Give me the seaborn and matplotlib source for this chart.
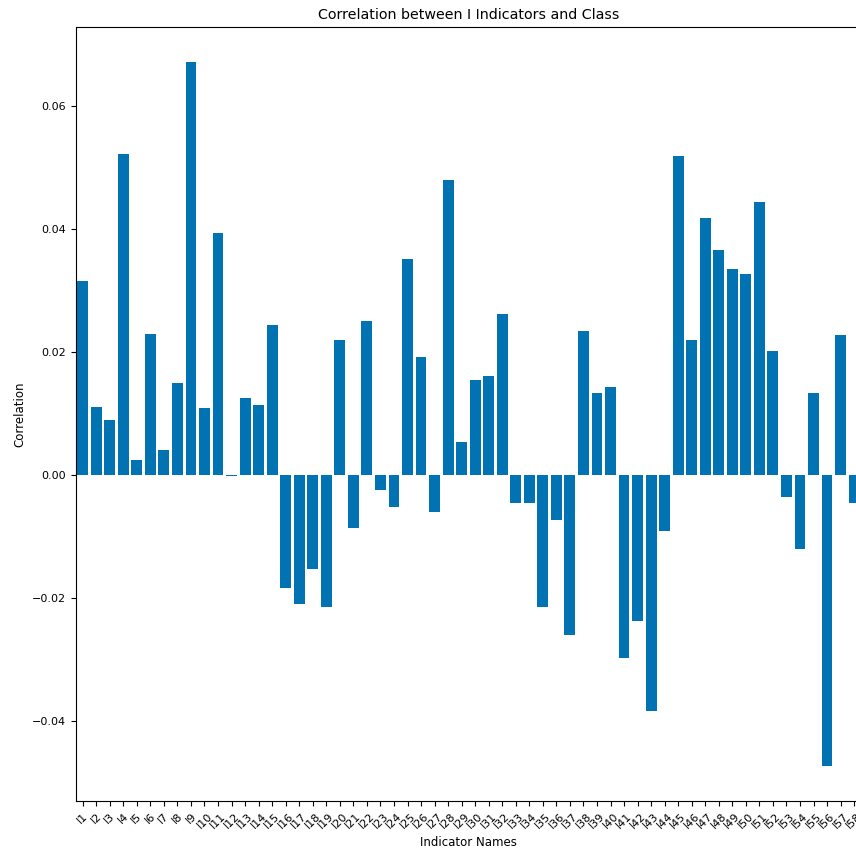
import pandas as pd
import seaborn as sns
import matplotlib.pyplot as plt

# Indicator names and their correlation with the class
indicators = [f"I{i}" for i in range(1, 59)]
correlations = [
    0.0315, 0.0111, 0.0089, 0.0522, 0.0024, 0.0229, 0.0041, 0.0149, 0.0671, 0.0109,
    0.0394, -0.0001, 0.0125, 0.0113, 0.0243, -0.0184, -0.0210, -0.0153, -0.0215, 0.0219,
    -0.0086, 0.0251, -0.0024, -0.0052, 0.0351, 0.0191, -0.0060, 0.0479, 0.0054, 0.0154,
    0.0161, 0.0262, -0.0045, -0.0045, -0.0215, -0.0074, -0.0260, 0.0234, 0.0134, 0.0143,
    -0.0298, -0.0238, -0.0383, -0.0091, 0.0519, 0.0220, 0.0418, 0.0366, 0.0335, 0.0326,
    0.0443, 0.0201, -0.0036, -0.0120, 0.0133, -0.0473, 0.0228, -0.0046,
]

df = pd.DataFrame({"Indicator": indicators, "Correlation": correlations})

sns.set_palette("colorblind")

fig = plt.figure(figsize=(8.56, 8.5), dpi=100)
ax = fig.add_axes([0.0887, 0.0576, 0.917, 0.9106])

sns.barplot(data=df, x="Indicator", y="Correlation", ax=ax, saturation=1.0,
            color=sns.color_palette("colorblind")[0])

ax.set_title("Correlation between I Indicators and Class", fontsize=10.3)
ax.set_xlabel("Indicator Names", fontsize=8.5)
ax.set_ylabel("Correlation", fontsize=8.5)
ax.tick_params(axis="y", labelsize=8)
ax.tick_params(axis="x", labelsize=8)
plt.setp(ax.get_xticklabels(), rotation=45)

plt.savefig("out.png", dpi=100)
